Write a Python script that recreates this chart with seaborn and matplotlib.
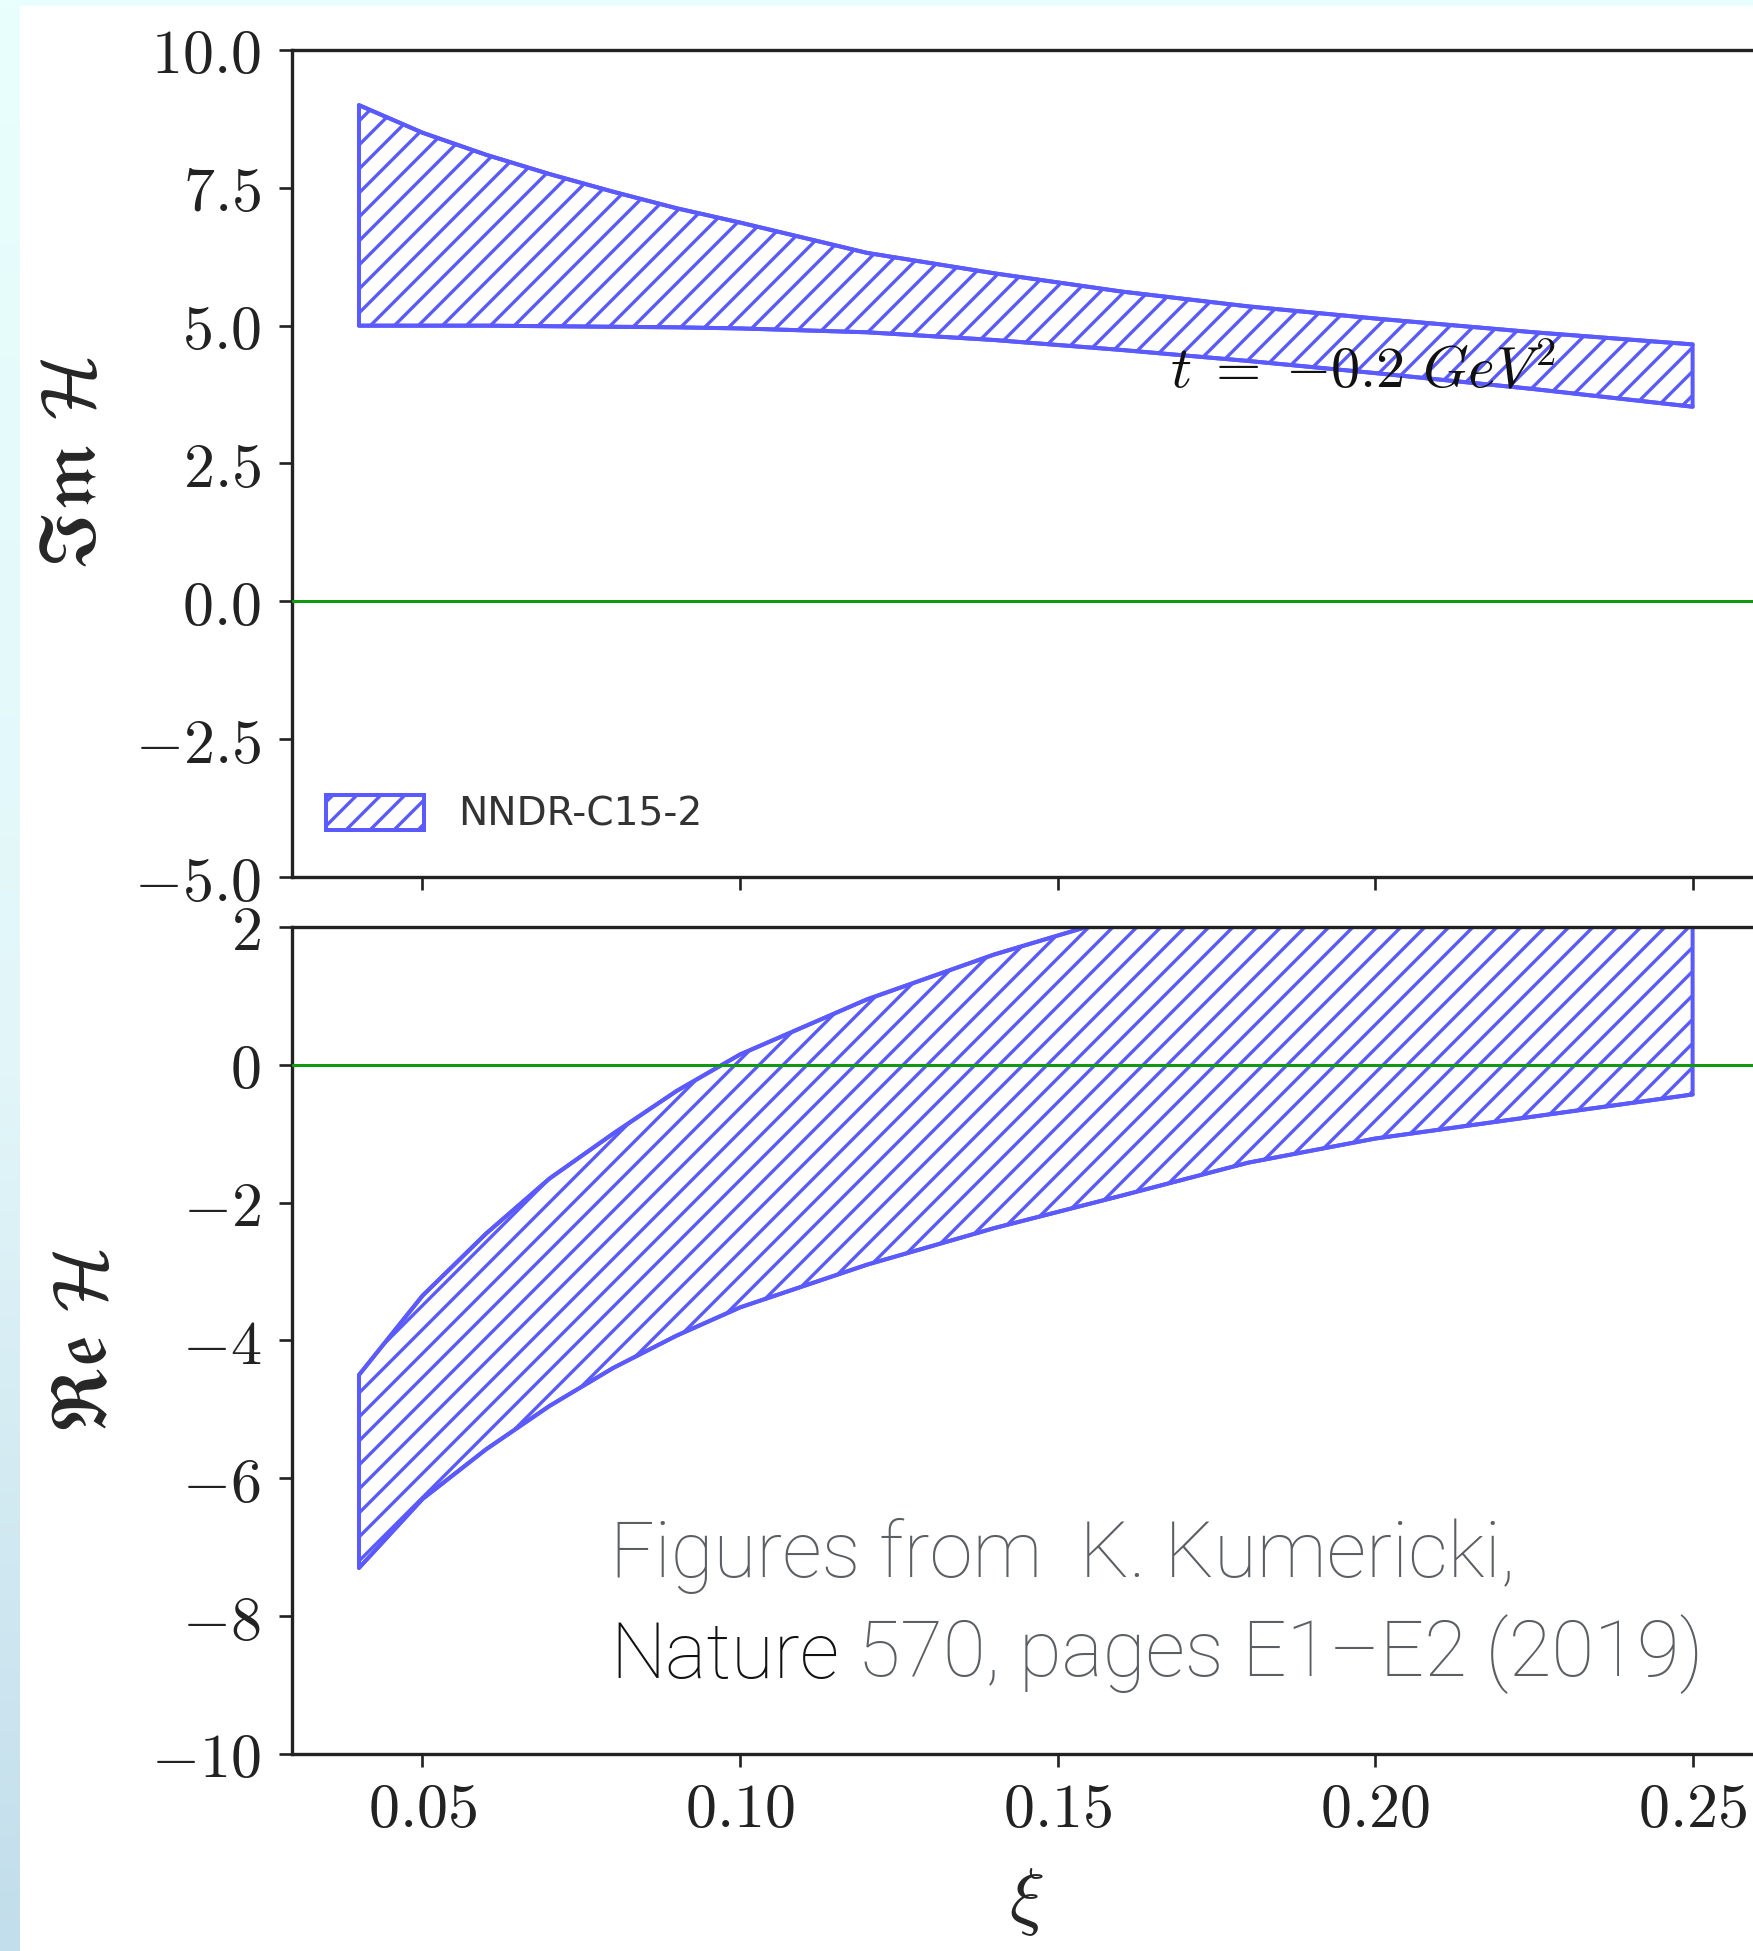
import numpy as np
import pandas as pd
import matplotlib
matplotlib.use("Agg")
import matplotlib.pyplot as plt
import seaborn as sns
from matplotlib.patches import Rectangle
from matplotlib.colors import LinearSegmentedColormap

# ---------------- data ----------------
xi = [0.04, 0.05, 0.06, 0.07, 0.08, 0.09, 0.10, 0.12, 0.14, 0.16, 0.18, 0.20, 0.225, 0.25]
im_upper = [9.0, 8.5, 8.1, 7.75, 7.43, 7.13, 6.87, 6.32, 5.95, 5.62, 5.35, 5.13, 4.88, 4.66]
im_lower = [5.0, 5.0, 5.0, 4.99, 4.98, 4.97, 4.95, 4.88, 4.74, 4.56, 4.36, 4.14, 3.85, 3.53]
re_upper = [-4.5, -3.35, -2.45, -1.65, -1.0, -0.38, 0.15, 0.95, 1.6, 2.15, 2.6, 2.95, 3.3, 3.6]
re_lower = [-7.3, -6.3, -5.58, -4.95, -4.4, -3.93, -3.52, -2.9, -2.37, -1.9, -1.42, -1.07, -0.75, -0.43]

x_ticks = [0.05, 0.10, 0.15, 0.20, 0.25]
im_yticks = [-5.0, -2.5, 0.0, 2.5, 5.0, 7.5, 10.0]
re_yticks = [-10, -8, -6, -4, -2, 0, 2]
series_label = "NNDR-C15-2"
annotation = r"$t\;=\;{-0.2}\ GeV^2$"
credit_line1 = "Figures from  K. Kumericki,"
credit_journal = "Nature"
credit_rest = " 570, pages E1\u2013E2 (2019)"

df = pd.DataFrame({"xi": xi, "im_lo": im_lower, "im_hi": im_upper,
                   "re_lo": re_lower, "re_hi": re_upper})

# ---------------- style ----------------
DPI = 144
S = 120 / DPI          # sizes below were tuned in points at 120 dpi
W, H = 1753, 1951

sns.set_theme(style="ticks")
plt.rcParams.update({
    "mathtext.fontset": "cm",
    "hatch.linewidth": 2.0 * S,
    "axes.linewidth": 2.0 * S,
    "axes.edgecolor": "#222222",
    "xtick.color": "#222222",
    "ytick.color": "#222222",
})

fig = plt.figure(figsize=(W / DPI, H / DPI), dpi=DPI, facecolor="white")

# background decorations (top strip + left gradient strip)
fig.add_artist(Rectangle((0, 1 - 6 / H), 1, 6 / H, transform=fig.transFigure,
                         facecolor="#E8FFFD", edgecolor="none", zorder=-5))
bg = fig.add_axes([0, 0, 20 / W, 1], zorder=-5)
cmap = LinearSegmentedColormap.from_list(
    "strip", [(0.0, "#E8FFFD"), (0.55, "#E2F6F9"), (1.0, "#C2DDEB")])
bg.imshow(np.linspace(0, 1, 256).reshape(-1, 1), aspect="auto", cmap=cmap,
          extent=(0, 1, 0, 1))
bg.axis("off")

BAND = "#5a5aff"
left, width = 292.3 / W, 1467 / W
ax1 = fig.add_axes([left, 1 - 877 / H, width, 827 / H])
ax2 = fig.add_axes([left, 1 - 1754 / H, width, 827 / H])

TICK_FS = 37.2 * S
for ax, lo, hi in ((ax1, "im_lo", "im_hi"), (ax2, "re_lo", "re_hi")):
    ax.fill_between(df["xi"], df[lo], df[hi], facecolor="none", edgecolor=BAND,
                    hatch="//", linewidth=2.4 * S, zorder=2,
                    label=series_label if ax is ax1 else None)
    sns.lineplot(data=df, x="xi", y=lo, ax=ax, color=BAND, lw=2.4 * S, zorder=2)
    sns.lineplot(data=df, x="xi", y=hi, ax=ax, color=BAND, lw=2.4 * S, zorder=2)
    ax.axhline(0, color="#119911", lw=1.8 * S, zorder=3)
    ax.set_xlim(0.0295, 0.2605)
    ax.set_xticks(x_ticks)
    ax.set_xlabel("")
    ax.set_ylabel("")
    ax.tick_params(axis="both", direction="out", length=7.8 * S, width=1.6 * S,
                   labelsize=TICK_FS)
    ax.tick_params(axis="y", pad=11 * S)
    ax.tick_params(axis="x", pad=8 * S)
    ax.spines["right"].set_visible(False)
    ax.set_facecolor("white")

ax1.set_ylim(-5, 10)
ax1.set_yticks(im_yticks)
ax1.set_yticklabels([f"${v:.1f}$" for v in im_yticks])
ax1.tick_params(axis="x", labelbottom=False)

ax2.set_ylim(-10, 2)
ax2.set_yticks(re_yticks)
ax2.set_yticklabels([f"${v:d}$" for v in re_yticks])
ax2.set_xticklabels([f"${v:.2f}$" for v in x_ticks])

ax1.set_ylabel(r"$\mathfrak{Im}\ \mathcal{H}$", fontsize=46 * S)
ax1.yaxis.set_label_coords(-0.124, 0.5)
ax2.set_ylabel(r"$\mathfrak{Re}\ \mathcal{H}$", fontsize=46 * S)
ax2.yaxis.set_label_coords(-0.116, 0.5)
ax2.set_xlabel(r"$\xi$", fontsize=44 * S)
ax2.xaxis.set_label_coords(0.5, -0.136)

ax1.text(0.1677, 3.886, annotation, fontsize=35 * S, ha="left", va="baseline",
         color="#111111", zorder=4)

leg = ax1.legend(loc="lower left", bbox_to_anchor=(0.023, 0.052), frameon=False,
                 handlelength=2.5, handleheight=1.0, handletextpad=0.87,
                 borderpad=0, borderaxespad=0,
                 prop={"family": "DejaVu Sans", "size": 23.5 * S})
for t in leg.get_texts():
    t.set_color("#333333")

# credit text overlay
CR_FS = 46.8 * S
GRAY = "#5b5f64"
fig.text(610 / W, 1 - 1577 / H, credit_line1, fontsize=CR_FS, color=GRAY,
         family="Roboto", weight="light", va="baseline", ha="left")
t2 = fig.text(610 / W, 1 - 1678 / H, credit_journal, fontsize=CR_FS,
              color="#111111", family="Roboto", weight="light",
              va="baseline", ha="left")
ax2.annotate(credit_rest, xy=(1, 0), xycoords=t2, va="bottom", ha="left",
             fontsize=CR_FS, color=GRAY, family="Roboto", weight="light",
             annotation_clip=False)

fig.savefig("out.png", dpi=DPI, facecolor="white")
